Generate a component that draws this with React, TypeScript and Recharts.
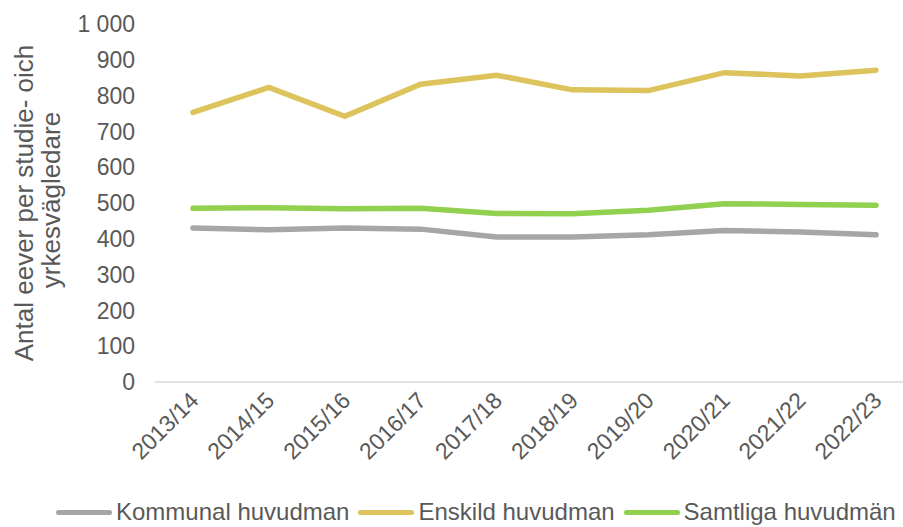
import { LineChart, Line, XAxis, YAxis } from 'recharts';

const years = ['2013/14', '2014/15', '2015/16', '2016/17', '2017/18', '2018/19', '2019/20', '2020/21', '2021/22', '2022/23'];
const kommunal = [430, 425, 430, 427, 405, 405, 411, 423, 419, 411];
const enskild = [753, 823, 742, 832, 857, 816, 814, 864, 855, 871];
const samtliga = [485, 487, 484, 485, 471, 470, 480, 498, 496, 494];
const yTicks = [0, 100, 200, 300, 400, 500, 600, 700, 800, 900, 1000];

const data = years.map((year, i) => ({
  year,
  kommunal: kommunal[i],
  enskild: enskild[i],
  samtliga: samtliga[i],
}));

const FONT = '"Liberation Sans", Arial, sans-serif';
const TEXT = '#595959';

const series = [
  { key: 'kommunal', name: 'Kommunal huvudman', color: '#A6A6A6' },
  { key: 'enskild', name: 'Enskild huvudman', color: '#DDC35B' },
  { key: 'samtliga', name: 'Samtliga huvudmän', color: '#92D050' },
];

const fmt = (v: number) => (v >= 1000 ? `${Math.floor(v / 1000)} ${String(v % 1000).padStart(3, '0')}` : String(v));

const XTick = ({ x, y, payload }: any) => (
  <text
    x={x + 7}
    y={y + 12}
    transform={`rotate(-45, ${x + 7}, ${y + 12})`}
    textAnchor="end"
    fill={TEXT}
    fontSize={23}
    fontFamily={FONT}
  >
    {payload.value}
  </text>
);

const YLabel = () => (
  <g fill={TEXT} fontSize={26} fontFamily={FONT}>
    <text x={33} y={203} transform="rotate(-90, 33, 203)" textAnchor="middle">
      Antal eever per studie- oich
    </text>
    <text x={60} y={200} transform="rotate(-90, 60, 200)" textAnchor="middle">
      yrkesvägledare
    </text>
  </g>
);

export default function App() {
  return (
    <div style={{ position: 'absolute', left: 0, top: 0, width: 903, height: 527, background: '#fff' }}>
      <LineChart width={903} height={527} data={data} margin={{ top: 24, right: 0, left: 0, bottom: 0 }}>
        <XAxis
          dataKey="year"
          scale="point"
          padding={{ left: 38, right: 27 }}
          tick={<XTick />}
          tickLine={false}
          axisLine={{ stroke: '#D9D9D9', strokeWidth: 1.5 }}
          interval={0}
          height={145}
        />
        <YAxis
          domain={[0, 1000]}
          ticks={yTicks}
          interval={0}
          tickFormatter={fmt}
          width={155}
          axisLine={false}
          tickLine={false}
          tickSize={0}
          tickMargin={20}
          tick={{ fill: TEXT, fontSize: 23, fontFamily: FONT }}
          label={<YLabel />}
        />
        {series.map((s) => (
          <Line
            key={s.key}
            dataKey={s.key}
            name={s.name}
            stroke={s.color}
            strokeWidth={5.5}
            strokeLinecap="round"
            dot={false}
            isAnimationActive={false}
          />
        ))}
      </LineChart>
      <div
        style={{
          position: 'absolute',
          left: 56,
          top: 498,
          display: 'flex',
          alignItems: 'center',
          fontFamily: FONT,
          fontSize: 24,
          color: TEXT,
          whiteSpace: 'nowrap',
        }}
      >
        {series.map((s) => (
          <div key={s.key} style={{ display: 'flex', alignItems: 'center', marginRight: 9 }}>
            <span style={{ display: 'inline-block', width: 56, height: 5, borderRadius: 3, background: s.color, marginRight: 4 }} />
            <span>{s.name}</span>
          </div>
        ))}
      </div>
    </div>
  );
}
